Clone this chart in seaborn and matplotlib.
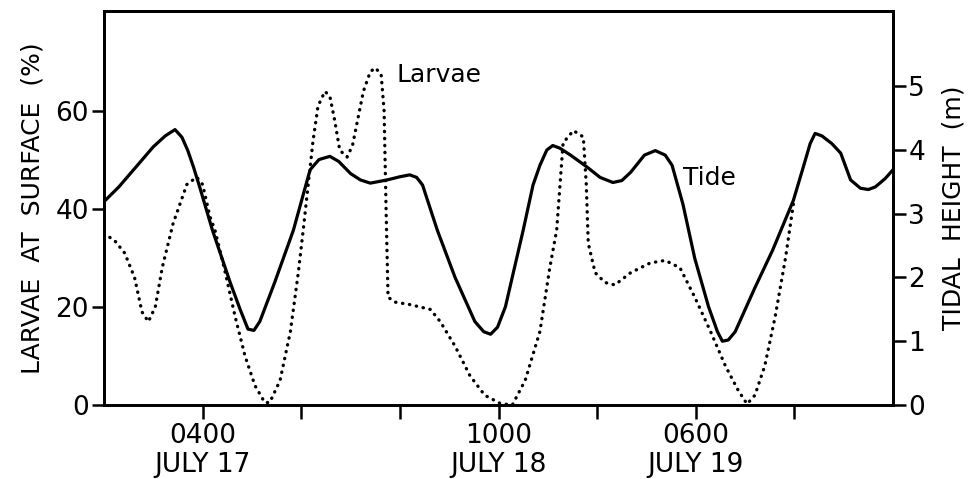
import numpy as np
import pandas as pd
import matplotlib
matplotlib.use("Agg")
import matplotlib.pyplot as plt
import seaborn as sns

# hours after 1800 July 16
tide_hours = [0, 1.5, 3, 5, 6.2, 7.2, 7.9, 8.5, 9.1, 9.7, 11, 12.8, 13.8, 14.6, 15.2,
              15.8, 17.3, 19.2, 20.2, 20.9, 21.8, 22.9, 23.8, 25, 26, 27, 28.7, 30,
              31, 31.7, 32.3, 33.8, 35.6, 37.6, 38.5, 39.2, 39.9, 40.7, 42.5, 43.5,
              44.2, 44.9, 45.5, 46.2, 47.3, 49, 50.3, 51.6, 52.5, 53.4, 54.8, 55.9,
              56.9, 57.6, 58.7, 59.9, 61.3, 62.2, 62.7, 63.3, 64, 66, 67.8, 69.9,
              70.9, 71.6, 72.1, 72.8, 73.8, 74.7, 75.7, 76.7, 77.5, 78.2, 79.2, 80]
tide_m = [3.19, 3.42, 3.69, 4.05, 4.22, 4.32, 4.20, 3.99, 3.72, 3.42, 2.74, 1.92, 1.50, 1.19, 1.17,
          1.31, 1.92, 2.74, 3.30, 3.69, 3.85, 3.90, 3.82, 3.63, 3.53, 3.48, 3.53, 3.58,
          3.61, 3.57, 3.45, 2.74, 2.00, 1.31, 1.15, 1.11, 1.22, 1.54, 2.74, 3.45,
          3.76, 4.00, 4.07, 4.03, 3.92, 3.73, 3.57, 3.49, 3.52, 3.65, 3.92, 3.99,
          3.92, 3.76, 3.15, 2.30, 1.54, 1.15, 1.00, 1.02, 1.15, 1.84, 2.43, 3.21,
          3.73, 4.10, 4.26, 4.22, 4.10, 3.95, 3.53, 3.40, 3.38, 3.42, 3.55, 3.69]

larvae_hours = [0, 1.1, 2.1, 3.1, 3.85, 4.5, 5.2, 5.9, 7.0, 8.4, 9.4, 10.0, 10.75, 11.25,
                12.3, 13.3, 14.3, 15.3, 16.3, 16.8, 17.85, 18.9, 19.7, 20.2, 21.2, 21.7,
                22.4, 22.9, 23.4, 23.9, 24.65, 25.2, 25.6, 26.3, 27.0, 27.5, 28.1, 28.4,
                28.6, 28.8, 29.5, 31.0, 33.1, 34.1, 35.6, 37.1, 38.6, 40.2, 41.4, 42.7,
                44.2, 45.2, 45.9, 46.55, 47.6, 48.6, 48.9, 49.1, 49.8, 50.8, 51.8, 53.4,
                55.4, 56.9, 58.4, 59.9, 61.5, 63.0, 64.3, 65.2, 66.0, 67.0, 68.05, 69.1, 69.9]
larvae_pct = [35, 33.5, 31, 26, 19, 17, 20, 28, 37, 45, 46.5, 45, 38.4, 35.7,
              27, 18, 10, 4, 0.5, 0.5, 5, 15, 27, 35.7, 54, 61,
              64, 63, 58, 52, 50.6, 53, 57, 64, 68, 68.8, 67.5, 60,
              40, 22, 21, 20.5, 19.5, 17, 12, 6, 2, 0.3, 0, 5,
              15, 28, 35.7, 53.5, 56, 54.7, 45, 33, 27, 25, 24.5, 27,
              29, 29.5, 28, 22, 15, 8, 3, 0.2, 2, 8, 18, 30, 41]

tick_hours = [10, 20, 30, 40, 50, 60, 70]
tick_labels = ["0400\nJULY 17", "", "", "1000\nJULY 18", "", "0600\nJULY 19", ""]

sns.set_theme(style="ticks")
plt.rcParams["font.family"] = ["DejaVu Sans"]
plt.rcParams["text.color"] = "black"
plt.rcParams["axes.labelcolor"] = "black"

fig = plt.figure(figsize=(9.73, 4.79), dpi=100)
ax = fig.add_axes([104 / 973, 74 / 479, 789 / 973, 394 / 479])
ax2 = ax.twinx()

tide = pd.DataFrame({"hours": tide_hours, "height": tide_m})
larvae = pd.DataFrame({"hours": larvae_hours, "pct": larvae_pct})

sns.lineplot(data=larvae, x="hours", y="pct", ax=ax, color="black",
             linewidth=2.4, linestyle=(0, (0.1, 2.0)), dash_capstyle="round")
sns.lineplot(data=tide, x="hours", y="height", ax=ax2, color="black",
             linewidth=2.3, solid_joinstyle="round", solid_capstyle="round")

ax.set_xlim(0, 80)
ax.set_ylim(0, 80.4)
ax2.set_ylim(0, 6.18)
ax.set_yticks([0, 20, 40, 60])
ax2.set_yticks([0, 1, 2, 3, 4, 5])
ax.set_xticks(tick_hours)
ax.set_xticklabels(tick_labels, fontsize=19, linespacing=1.15)
ax.tick_params(axis="y", labelsize=19, length=9, width=1.8, pad=2, colors="black")
ax.tick_params(axis="x", length=10, width=1.8, pad=3, colors="black")
ax2.tick_params(axis="y", labelsize=19, length=9, width=1.8, pad=2, colors="black")

ax.set_xlabel("")
ax.set_ylabel("LARVAE  AT  SURFACE  (%)", fontsize=18, labelpad=8)
ax2.set_ylabel("TIDAL  HEIGHT  (m)", fontsize=18, labelpad=12)

for a in (ax, ax2):
    for s in a.spines.values():
        s.set_visible(True)
        s.set_linewidth(2)
        s.set_color("black")

ax.text(29.7, 67.3, "Larvae", fontsize=18, va="center", ha="left")
ax.text(58.7, 46.3, "Tide", fontsize=18, va="center", ha="left")

fig.savefig("out.png", dpi=100)
